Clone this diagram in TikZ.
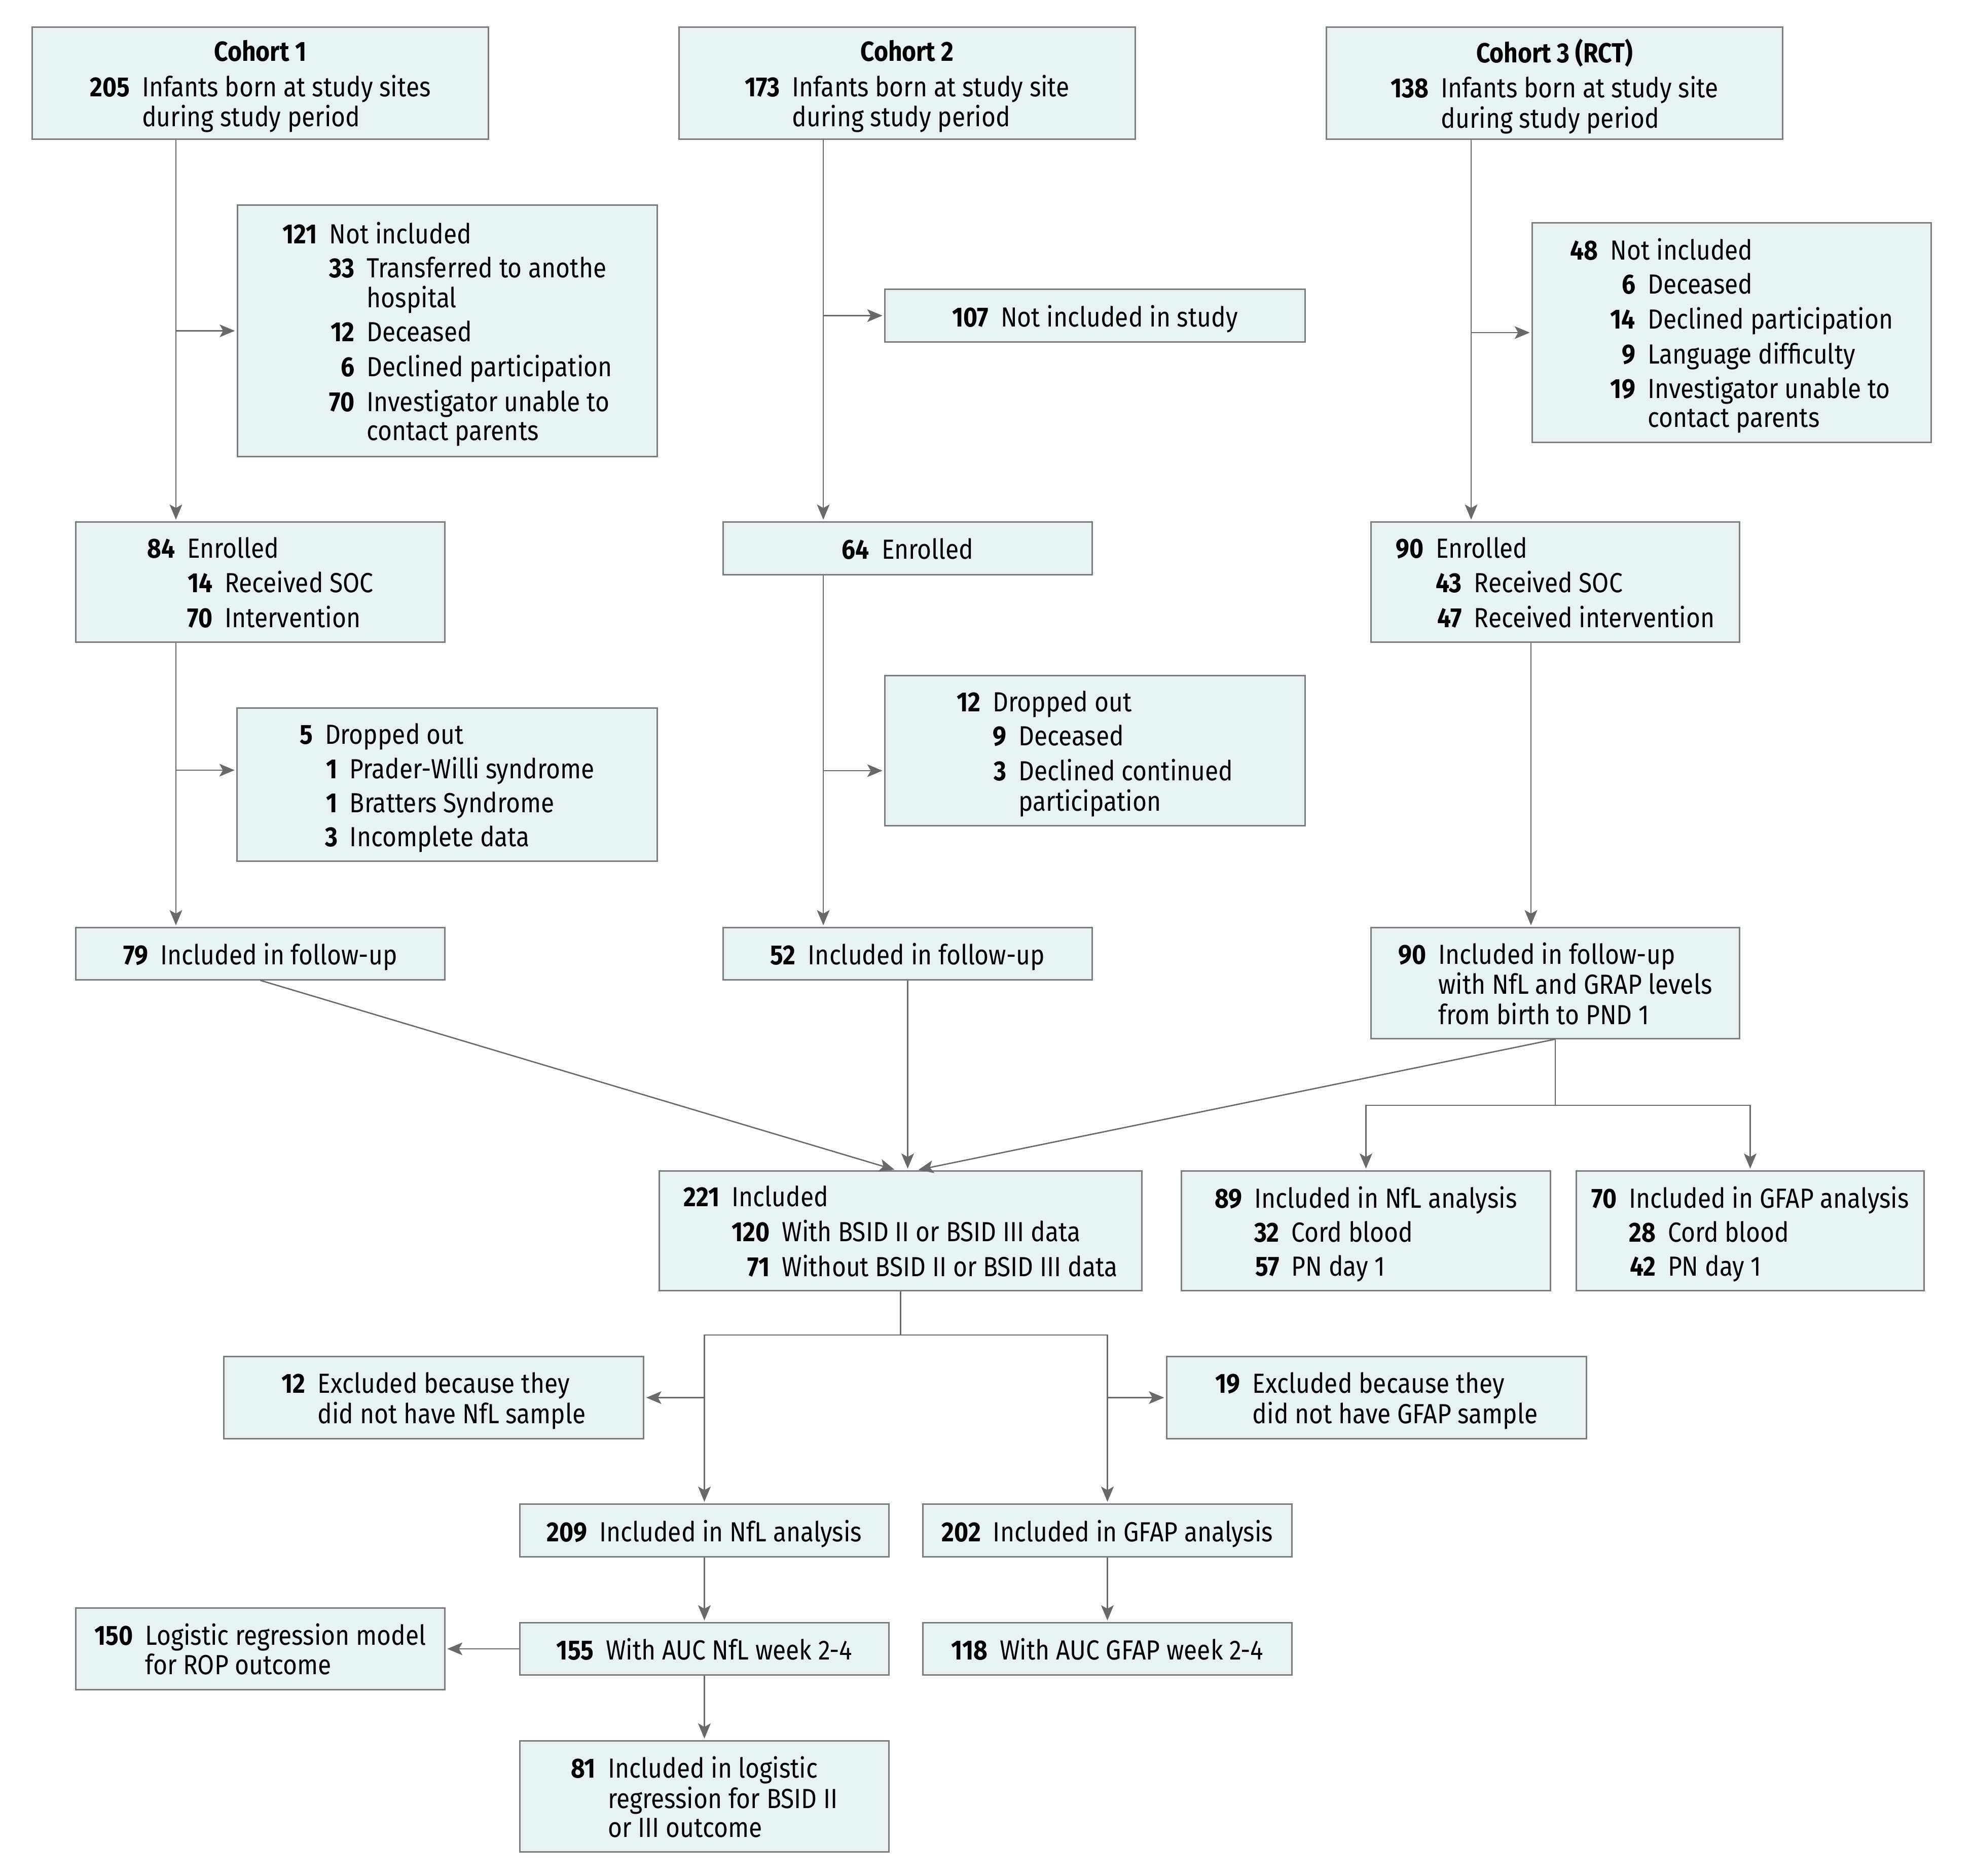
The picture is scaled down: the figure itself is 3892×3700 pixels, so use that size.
\documentclass[tikz,border=0pt]{standalone}
\usepackage{fontspec}
\setmainfont[FakeStretch=0.88]{Fira Sans}
\usetikzlibrary{arrows.meta, calc}
\definecolor{boxfill}{RGB}{232, 242, 243}
\definecolor{boxline}{RGB}{125, 125, 125}
\definecolor{linkgray}{RGB}{105, 105, 105}

% rows of a count box: bold count, then the text
\newcommand{\numgap}{\hspace{0.24cm}}
\newcommand{\nhead}[1]{\multicolumn{3}{@{}c@{}}{\textbf{#1}}}
\newcommand{\nmain}[2]{\textbf{#1} & \multicolumn{2}{@{}l@{}}{#2}}
\newcommand{\nwrap}[1]{& \multicolumn{2}{@{}l@{}}{#1}}
\newcommand{\nsub}[2]{& \textbf{#1} & #2}
\newcommand{\nmore}[1]{& & #1}
\newcommand{\flow}[1]{\raisebox{-0.09cm}[\height][\depth]{%
  \begin{tabular}{@{}r@{\numgap}r@{\numgap}l@{}}#1\end{tabular}}}

\begin{document}
\begin{tikzpicture}[x=0.01cm, y=-0.01cm,
  box/.style={draw=boxline, fill=boxfill, line width=0.85pt, inner sep=0pt,
    font=\fontsize{15.5}{16.2}\selectfont},
  cohort/.style={box, minimum width=8.99cm, minimum height=2.2cm},
  side/.style={box, minimum width=8.28cm},
  mid/.style={box, minimum width=7.27cm},
  line/.style={draw=linkgray, line width=0.75pt},
  arr/.style={line, -{Stealth[length=0.3cm, width=0.25cm, inset=0.07cm]}, shorten >=1pt}]

  \useasboundingbox (0,0) rectangle (3892,3700);

  % cohorts
  \node[cohort] (c1) at (513.5,164) {\flow{\nhead{Cohort 1}\\[0.1cm]
    \nmain{205}{Infants born at study sites}\\ \nwrap{during study period}}};
  \node[cohort] (c2) at (1789.5,164) {\flow{\nhead{Cohort 2}\\[0.1cm]
    \nmain{173}{Infants born at study site}\\ \nwrap{during study period}}};
  \node[cohort] (c3) at (3066.5,164) {\flow{\nhead{Cohort 3 (RCT)}\\[0.1cm]
    \nmain{138}{Infants born at study site}\\ \nwrap{during study period}}};

  % not included
  \node[side, minimum height=4.95cm] (nin1) at (882.5,652.5) {\flow{
    \nmain{121}{Not included}\\[0.09cm]
    \nsub{33}{Transferred to anothe}\\ \nmore{hospital}\\[0.09cm]
    \nsub{12}{Deceased}\\[0.09cm]
    \nsub{6}{Declined participation}\\[0.09cm]
    \nsub{70}{Investigator unable to}\\ \nmore{contact parents}}};
  \node[side, minimum height=1.03cm] (nin2) at (2160,622.5) {\flow{\nmain{107}{Not included in study}}};
  \node[box, minimum width=7.86cm, minimum height=4.32cm] (nin3) at (3416,656) {\flow{
    \nmain{48}{Not included}\\[0.09cm]
    \nsub{6}{Deceased}\\[0.09cm]
    \nsub{14}{Declined participation}\\[0.09cm]
    \nsub{9}{Language difficulty}\\[0.09cm]
    \nsub{19}{Investigator unable to}\\ \nmore{contact parents}}};

  % enrolled
  \node[mid, minimum height=2.36cm] (en1) at (513.5,1148) {\flow{
    \nmain{84}{Enrolled}\\[0.09cm] \nsub{14}{Received SOC}\\[0.09cm] \nsub{70}{Intervention}}};
  \node[mid, minimum height=1.03cm] (en2) at (1790.5,1081.5) {\flow{\nmain{64}{Enrolled}}};
  \node[mid, minimum height=2.36cm] (en3) at (3068,1148) {\flow{
    \nmain{90}{Enrolled}\\[0.09cm] \nsub{43}{Received SOC}\\[0.09cm] \nsub{47}{Received intervention}}};

  % dropped out
  \node[side, minimum height=3.01cm] (dr1) at (882,1547.5) {\flow{
    \nmain{5}{Dropped out}\\[0.09cm]
    \nsub{1}{Prader-Willi syndrome}\\[0.09cm]
    \nsub{1}{Bratters Syndrome}\\[0.09cm]
    \nsub{3}{Incomplete data}}};
  \node[side, minimum height=2.95cm] (dr2) at (2160,1480.5) {\flow{
    \nmain{12}{Dropped out}\\[0.09cm]
    \nsub{9}{Deceased}\\[0.09cm]
    \nsub{3}{Declined continued}\\ \nmore{participation}}};

  % follow-up
  \node[mid, minimum height=1.02cm] (fu1) at (513.5,1881) {\flow{\nmain{79}{Included in follow-up}}};
  \node[mid, minimum height=1.02cm] (fu2) at (1790.5,1881) {\flow{\nmain{52}{Included in follow-up}}};
  \node[mid, minimum height=2.18cm] (fu3) at (3068,1939) {\flow{
    \nmain{90}{Included in follow-up}\\ \nwrap{with NfL and GRAP levels}\\ \nwrap{from birth to PND 1}}};

  % pooled and biomarker boxes
  \node[box, minimum width=9.51cm, minimum height=2.35cm] (inc) at (1776.5,2427.5) {\flow{
    \nmain{221}{Included}\\[0.09cm]
    \nsub{120}{With BSID II or BSID III data}\\[0.09cm]
    \nsub{71}{Without BSID II or BSID III data}}};
  \node[mid, minimum height=2.35cm] (nfl) at (2694.5,2427.5) {\flow{
    \nmain{89}{Included in NfL analysis}\\[0.09cm] \nsub{32}{Cord blood}\\[0.09cm] \nsub{57}{PN day 1}}};
  \node[box, minimum width=6.85cm, minimum height=2.35cm] (gfap) at (3452.5,2427.5) {\flow{
    \nmain{70}{Included in GFAP analysis}\\[0.09cm] \nsub{28}{Cord blood}\\[0.09cm] \nsub{42}{PN day 1}}};

  % exclusions
  \node[side, minimum height=1.61cm] (ex12) at (855.5,2756.5) {\flow{
    \nmain{12}{Excluded because they}\\ \nwrap{did not have NfL sample}}};
  \node[side, minimum height=1.61cm] (ex19) at (2715.5,2756.5) {\flow{
    \nmain{19}{Excluded because they}\\ \nwrap{did not have GFAP sample}}};

  % analyses
  \node[mid, minimum height=1.03cm] (nfl209) at (1389.5,3018.5) {\flow{\nmain{209}{Included in NfL analysis}}};
  \node[mid, minimum height=1.03cm] (gfap202) at (2184.5,3018.5) {\flow{\nmain{202}{Included in GFAP analysis}}};
  \node[mid, minimum height=1.6cm] (log150) at (513.5,3252) {\flow{
    \nmain{150}{Logistic regression model}\\ \nwrap{for ROP outcome}}};
  \node[mid, minimum height=1.02cm] (auc155) at (1389.5,3252) {\flow{\nmain{155}{With AUC NfL week 2-4}}};
  \node[mid, minimum height=1.02cm] (auc118) at (2184.5,3252) {\flow{\nmain{118}{With AUC GFAP week 2-4}}};
  \node[mid, minimum height=2.18cm] (log81) at (1389.5,3543) {\flow{
    \nmain{81}{Included in logistic}\\ \nwrap{regression for BSID II}\\ \nwrap{or III outcome}}};

  % trunks and joints
  \coordinate (k1) at (347,0);
  \coordinate (k2) at (1624,0);
  \coordinate (k3) at (2902,0);
  \coordinate (k3b) at (3020,0);
  \coordinate (j1) at (347,1519);
  \coordinate (j2) at (1624,1520);
  \coordinate (tipL) at (1768,2308);
  \coordinate (tipR) at (1808,2308);
  \coordinate (h3) at (3068,2180);
  \coordinate (h2) at (1776.5,2633);

  \draw[arr] (c1.south -| k1) -- (en1.north -| k1);
  \draw[arr] (k1 |- nin1.west) -- (nin1.west);
  \draw[arr] (c2.south -| k2) -- (en2.north -| k2);
  \draw[arr] (k2 |- nin2.west) -- (nin2.west);
  \draw[arr] (c3.south -| k3) -- (en3.north -| k3);
  \draw[arr] (k3 |- nin3.west) -- (nin3.west);

  \draw[arr] (en1.south -| k1) -- (fu1.north -| k1);
  \draw[arr] (j1) -- (j1 -| dr1.west);
  \draw[arr] (en2.south -| k2) -- (fu2.north -| k2);
  \draw[arr] (j2) -- (j2 -| dr2.west);
  \draw[arr] (en3.south -| k3b) -- (fu3.north -| k3b);

  \draw[arr] (fu1.south) -- (tipL);
  \draw[arr] (fu2.south) -- (fu2.south |- inc.north);
  \draw[arr] (fu3.south) -- (tipR);
  \draw[line] (fu3.south) -- (h3);
  \draw[arr] (h3) -| (nfl.north);
  \draw[arr] (h3) -| (gfap.north);

  \draw[line] (inc.south) -- (h2);
  \draw[arr] (h2) -| (nfl209.north);
  \draw[arr] (h2) -| (gfap202.north);
  \draw[arr] (nfl209.north |- ex12.east) -- (ex12.east);
  \draw[arr] (gfap202.north |- ex19.west) -- (ex19.west);
  \draw[arr] (nfl209) -- (auc155);
  \draw[arr] (gfap202) -- (auc118);
  \draw[arr] (auc155) -- (log150);
  \draw[arr] (auc155) -- (log81);
\end{tikzpicture}
\end{document}
